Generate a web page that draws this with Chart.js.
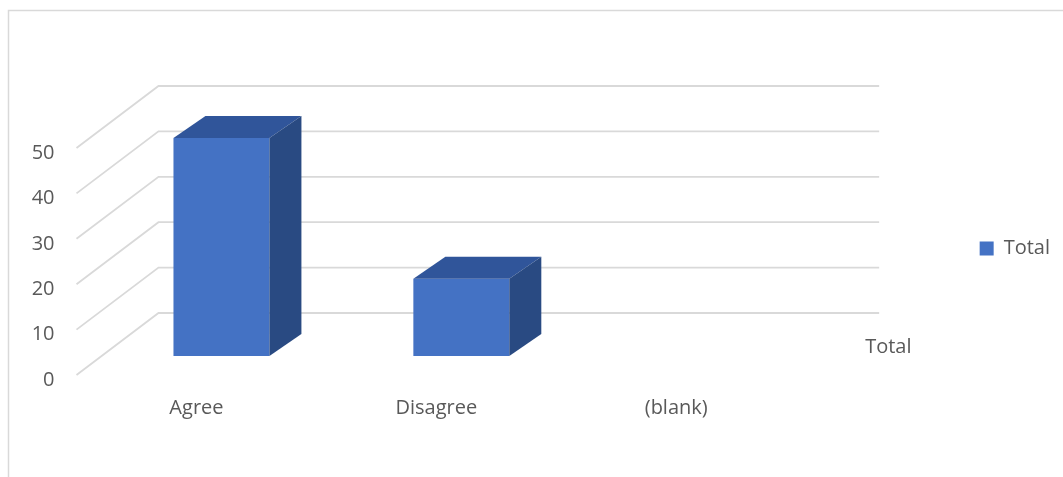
<!DOCTYPE html>
<html>
<head>
<meta charset="utf-8">
<script src="https://cdn.jsdelivr.net/npm/chart.js@4.4.0/dist/chart.umd.min.js"></script>
<style>
  html, body { margin: 0; padding: 0; background: #fff; }
  #wrap { width: 1063px; height: 477px; position: relative; }
</style>
</head>
<body>
<div id="wrap"><canvas id="chart" width="1063" height="477"></canvas></div>
<script>
//chart data
const categories = ['Agree', 'Disagree', '(blank)'];
const totals = [48, 17, null];
const seriesNames = ['Total'];
const yTicks = [0, 10, 20, 30, 40, 50];

//colours
const frontColor = '#4472c4';
const topColor = '#30559a';
const sideColor = '#294a82';
const gridColor = '#d9d9d9';
const textColor = '#595959';

//3d offsets relative to the bar front plane
const floorFront = { x: -25, y: 19 };
const backWall = { x: 57, y: -43 };
const barDepth = { x: 32, y: -22 };

//draws the chart border, the 3d grid walls and the bar tops / sides
const gridPlugin = {
    id: 'grid3d',
    beforeDraw: chart => {
        const ctx = chart.ctx;
        ctx.save();
        ctx.strokeStyle = gridColor;
        ctx.lineWidth = 1.5;
        ctx.strokeRect(8.5, 10.5, 1100, 500);
        ctx.restore();
    },
    beforeDatasetsDraw: chart => {
        const ctx = chart.ctx;
        const area = chart.chartArea;
        const yScale = chart.scales.y;
        ctx.save();
        ctx.strokeStyle = gridColor;
        ctx.lineWidth = 1.8;
        yTicks.forEach(v => {
            const py = yScale.getPixelForValue(v);
            ctx.beginPath();
            ctx.moveTo(area.left + floorFront.x, py + floorFront.y);
            ctx.lineTo(area.left + backWall.x, py + backWall.y);
            ctx.lineTo(area.right + backWall.x + 1, py + backWall.y);
            ctx.stroke();
        });
        ctx.restore();
    },
    afterDatasetsDraw: chart => {
        const ctx = chart.ctx;
        const area = chart.chartArea;
        const meta = chart.getDatasetMeta(0);
        ctx.save();
        meta.data.forEach((bar, i) => {
            if (totals[i] === null) return;
            const p = bar.getProps(['x', 'y', 'base', 'width'], true);
            const l = p.x - p.width / 2;
            const r = p.x + p.width / 2;
            //top face
            ctx.fillStyle = topColor;
            ctx.beginPath();
            ctx.moveTo(l, p.y);
            ctx.lineTo(l + barDepth.x, p.y + barDepth.y);
            ctx.lineTo(r + barDepth.x, p.y + barDepth.y);
            ctx.lineTo(r, p.y);
            ctx.closePath();
            ctx.fill();
            //side face
            ctx.fillStyle = sideColor;
            ctx.beginPath();
            ctx.moveTo(r, p.y);
            ctx.lineTo(r + barDepth.x, p.y + barDepth.y);
            ctx.lineTo(r + barDepth.x, p.base + barDepth.y);
            ctx.lineTo(r, p.base);
            ctx.closePath();
            ctx.fill();
        });
        //series (depth) axis label
        ctx.fillStyle = textColor;
        ctx.font = '20px "Open Sans"';
        ctx.textAlign = 'left';
        ctx.textBaseline = 'middle';
        ctx.fillText(seriesNames[0], area.right + 44, area.bottom - 9);
        ctx.restore();
    }
};

const data = {
    labels: categories,
    datasets: [{
        label: seriesNames[0],
        data: totals,
        backgroundColor: frontColor,
        borderWidth: 0,
        categoryPercentage: 1,
        barPercentage: 0.4,
    }],
};

const config = {
    type: 'bar',
    data: data,
    plugins: [gridPlugin],
    options: {
        responsive: false,
        animation: false,
        layout: {
            padding: { left: 0, top: 129, right: 3, bottom: 0 }
        },
        plugins: {
            legend: {
                position: 'right',
                fullSize: false,
                title: {
                    display: true,
                    text: ' ',
                    font: { size: 8, lineHeight: 1 },
                    padding: { top: 2, bottom: 2 },
                },
                labels: {
                    color: textColor,
                    font: { family: 'Open Sans', size: 20 },
                    boxWidth: 14,
                    boxHeight: 14,
                    padding: 158.5,
                },
            },
            tooltip: { enabled: false },
        },
        scales: {
            x: {
                grid: { display: false, drawTicks: false },
                border: { display: false },
                ticks: {
                    color: textColor,
                    font: { family: 'Open Sans', size: 20 },
                    labelOffset: floorFront.x,
                    padding: 40,
                    maxRotation: 0,
                },
                afterFit: s => { s.height = 121; },
            },
            y: {
                min: 0,
                max: 50,
                grid: { display: false, drawTicks: false },
                border: { display: false },
                ticks: {
                    stepSize: 10,
                    color: textColor,
                    font: { family: 'Open Sans', size: 20 },
                    labelOffset: 24,
                    padding: 47,
                },
                afterFit: s => { s.width = 101.5; },
            },
        },
    },
};

const chart = new Chart(document.getElementById('chart'), config);
</script>
</body>
</html>
